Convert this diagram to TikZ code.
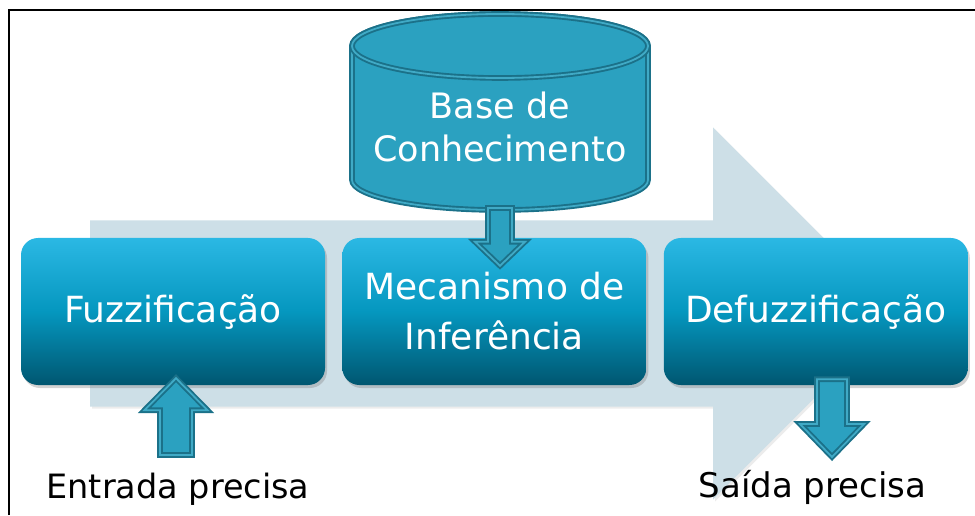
\documentclass[tikz,border=0pt]{standalone}
\usepackage{fontspec}
\setmainfont{DejaVu Sans}
\usetikzlibrary{positioning,calc,shadows}

\definecolor{flowgray}{HTML}{CDDFE7}
\definecolor{boxtop}{HTML}{2BB8E4}
\definecolor{boxmid}{HTML}{0597BF}
\definecolor{boxbot}{HTML}{005670}
\definecolor{kbfill}{HTML}{2BA1C0}
\definecolor{kbline}{HTML}{1B7189}

% block arrow: #1 start, #2 tip, #3 half shaft, #4 half head, #5 head length
\newcommand{\fatarrow}[5]{%
  \draw[fatline] let \p1=(#1), \p2=(#2), \p3=($(#2)!#5pt!(#1)$) in
    (\x1-#3pt,\y1) -- (\x1-#3pt,\y3) -- (\x1-#4pt,\y3) -- (\x2,\y2)
    -- (\x1+#4pt,\y3) -- (\x1+#3pt,\y3) -- (\x1+#3pt,\y1) -- cycle;}

\begin{document}
\begin{tikzpicture}[x=1pt, y=1pt,
    box/.style={rounded corners=17pt, minimum width=304pt, minimum height=147pt,
      top color=boxtop, bottom color=boxbot, middle color=boxmid,
      text=white, align=center, font=\fontsize{36}{50}\selectfont,
      drop shadow={shadow xshift=2pt, shadow yshift=-3pt, opacity=0.35}},
    fatline/.style={draw=kbline, line width=1.9pt, double=kbfill!90!white,
      double distance=1.8pt, fill=kbfill}]
    \useasboundingbox (0,0) rectangle (975,515);

    % Frame
    \draw[line width=2.6pt] (9,0) -- (9,505) -- (975,505);

    % Process arrow in the back
    \fill[flowgray, drop shadow={shadow xshift=2pt, shadow yshift=-2pt, opacity=0.15}]
      (90,294.5) -- (713,294.5) -- (713,387.5) -- (899,201.5)
      -- (713,15.5) -- (713,108.5) -- (90,108.5) -- cycle;

    % Stages
    \node[box] (fuzz) at (173,203.5) {Fuzzificação};
    \node[box, right=17pt of fuzz] (mec) {Mecanismo de\\Inferência};
    \node[box, right=17pt of mec] (defuzz) {Defuzzificação};

    % Crisp input and output
    \node[font=\fontsize{33.5}{40}\selectfont, anchor=base] (entrada) at (178,17) {Entrada precisa};
    \node[font=\fontsize{34}{40}\selectfont, anchor=base] (saida) at (812.5,18) {Saída precisa};
    \coordinate (in) at (176,60);
    \coordinate (out) at (832,58);

    % Knowledge base
    \draw[fatline] (352,469) -- (352,335)
      arc[start angle=180, end angle=360, x radius=148, y radius=30]
      -- (648,469) arc[start angle=0, end angle=180, x radius=148, y radius=32] -- cycle;
    \draw[fatline] (500,469) ellipse[x radius=148, y radius=32];
    \node[text=white, align=center, font=\fontsize{35}{43}\selectfont] (base) at (500,388)
      {Base de\\Conhecimento};

    % Block arrows
    \fatarrow{$(base)+(0,-81)$}{$(mec.north -| base)+(0,-28)$}{12}{25}{24}
    \fatarrow{in}{$(fuzz.south -| in)+(0,7)$}{16}{31.5}{32}
    \fatarrow{$(defuzz.south -| out)+(0,6)$}{out}{15}{32}{33}
\end{tikzpicture}
\end{document}
